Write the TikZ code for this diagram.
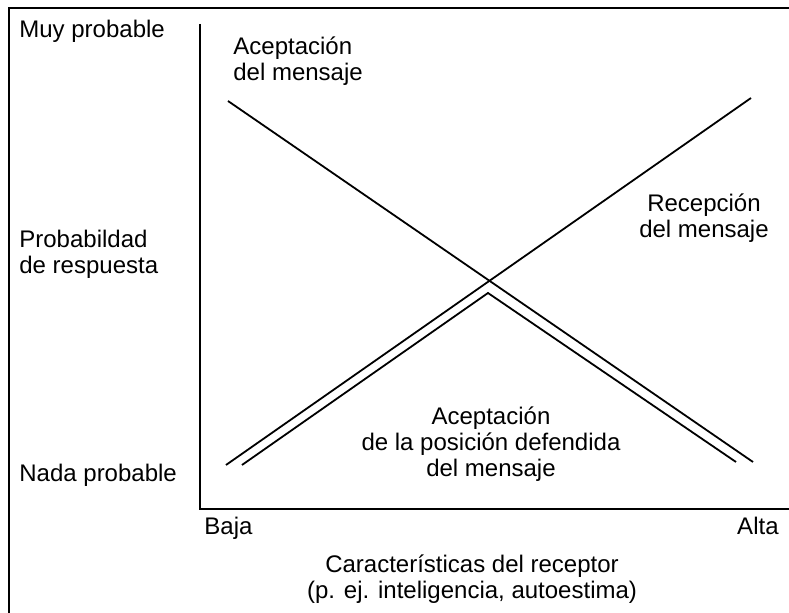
\documentclass[tikz,border=0pt]{standalone}
\usepackage{fontspec}
\setmainfont{Liberation Sans}
\usepackage{tikz}

\tikzset{
  label text/.style={font=\fontsize{12}{13}\selectfont, inner sep=0pt},
  curve/.style={line width=0.9pt}
}

\begin{document}
\begin{tikzpicture}[x=0.5pt,y=-0.5pt]
\useasboundingbox (0,0) rectangle (789,613);

% Frame
\draw[line width=0.9pt] (9,613) -- (9,8) -- (789,8);

% Axes
\coordinate (top) at (200,24);
\coordinate (origin) at (200,509);
\coordinate (right) at (789,509);
\draw[line width=0.9pt] (top) -- (origin) -- (right);

% Vertical axis labels
\node[label text,anchor=base west] (muy) at (19,38) {Muy probable};
\node[label text,anchor=base west,align=left] (prob) at (19,274) {Probabildad\\de respuesta};
\node[label text,anchor=base west] (nada) at (19,482) {Nada probable};

% Horizontal axis labels
\node[label text,anchor=base west] (baja) at (204,535) {Baja};
\node[label text,anchor=base east] (alta) at (779,535) {Alta};
\node[label text,anchor=base,align=center] (carac) at (472,599) {Caracter\'isticas del receptor\\(p. ej. inteligencia, autoestima)};

% Aceptacion del mensaje
\coordinate (a1) at (228,101);
\coordinate (a2) at (753,462);
\draw[curve] (a1) -- (a2);
\node[label text,anchor=base west,align=left] (acep) at (233,81) {Aceptaci\'on\\del mensaje};

% Recepcion del mensaje
\coordinate (r1) at (226,465);
\coordinate (r2) at (751,98);
\draw[curve] (r1) -- (r2);
\node[label text,anchor=base,align=center] (recep) at (704,238) {Recepci\'on\\del mensaje};

% Aceptacion de la posicion defendida
\coordinate (p1) at (242,465);
\coordinate (p2) at (488,293);
\coordinate (p3) at (736,462);
\draw[curve] (p1) -- (p2) -- (p3);
\node[label text,anchor=base,align=center] (posic) at (491,477) {Aceptaci\'on\\de la posici\'on defendida\\del mensaje};

\end{tikzpicture}
\end{document}
